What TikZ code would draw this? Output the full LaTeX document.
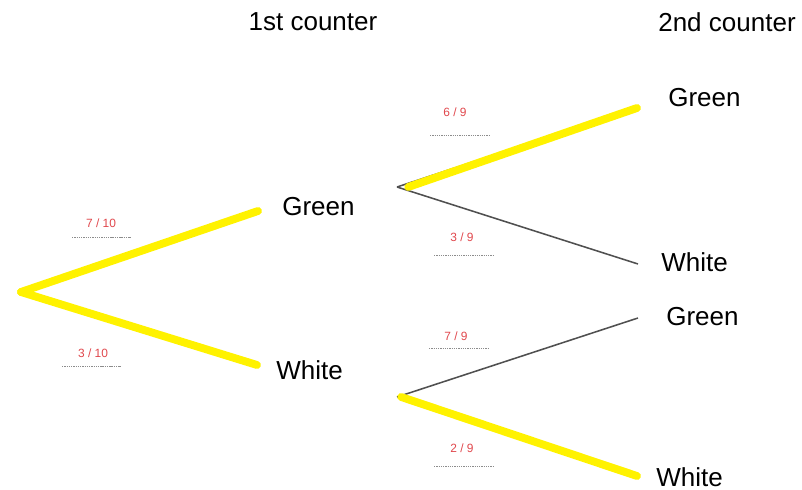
\documentclass[tikz,border=0pt]{standalone}
\usepackage{fontspec}
\setmainfont{Liberation Sans}
\usetikzlibrary{positioning}
\definecolor{trYellow}{HTML}{FFF200}
\definecolor{trRed}{HTML}{E0474C}
\definecolor{trLine}{HTML}{505050}
\definecolor{trDash}{HTML}{8C8C8C}
\tikzset{
  outcome/.style={font=\fontsize{18.5}{22}\selectfont, anchor=west, inner sep=0pt},
  heading/.style={font=\fontsize{18.5}{22}\selectfont, inner sep=0pt},
  prob/.style={font=\fontsize{8.5}{10}\selectfont, text=trRed, inner sep=1pt},
  chosen/.style={line width=5.6pt, trYellow, line cap=round},
  branch/.style={line width=1.1pt, trLine},
  blank/.style={trDash, line width=0.6pt, dash pattern=on 1pt off 0.6pt}
}
\begin{document}
\begin{tikzpicture}[x=0.025cm, y=-0.025cm]
  \useasboundingbox (0,0) rectangle (802,490);

  % headings
  \node[heading] (first) at (313,22) {1st counter};
  \node[heading] (second) at (727,22) {2nd counter};

  % first counter
  \coordinate (root) at (21,292);
  \coordinate (g1) at (258,211);
  \coordinate (w1) at (257,365);
  \node[outcome] (green1) at (282,207) {Green};
  \node[outcome] (white1) at (276,370) {White};

  % second counter
  \coordinate (gsplit) at (397,187);
  \coordinate (wsplit) at (397,397);
  \coordinate (gg) at (637,108);
  \coordinate (gw) at (638,264);
  \coordinate (wg) at (638,318);
  \coordinate (ww) at (637,476);
  \node[outcome] (green2) at (668,98) {Green};
  \node[outcome] (white2) at (661,262) {White};
  \node[outcome] (green3) at (666,317) {Green};
  \node[outcome] (white3) at (656,477) {White};

  % branches
  \draw[branch] (gsplit) -- (gg);
  \draw[branch] (gsplit) -- (gw);
  \draw[branch] (wsplit) -- (wg);
  \draw[chosen] (root) -- (g1);
  \draw[chosen] (root) -- (w1);
  \draw[chosen] ([xshift=8]gsplit) -- (gg);
  \draw[chosen] ([xshift=3]wsplit) -- (ww);

  % probabilities
  \foreach \n/\x/\y/\t in {
    a/101/223/{7 / 10},
    b/93/353/{3 / 10},
    c/455/112/{6 / 9},
    d/462/237/{3 / 9},
    e/456/336/{7 / 9},
    f/462/448/{2 / 9}}{
    \node[prob] (p\n) at (\x,\y) {\t};
  }
  \foreach \x/\y in {72/237, 62/366, 430/135, 434/255, 429/348, 434/466}{
    \draw[blank] (\x,\y) -- ++(59,0);
  }
\end{tikzpicture}
\end{document}
